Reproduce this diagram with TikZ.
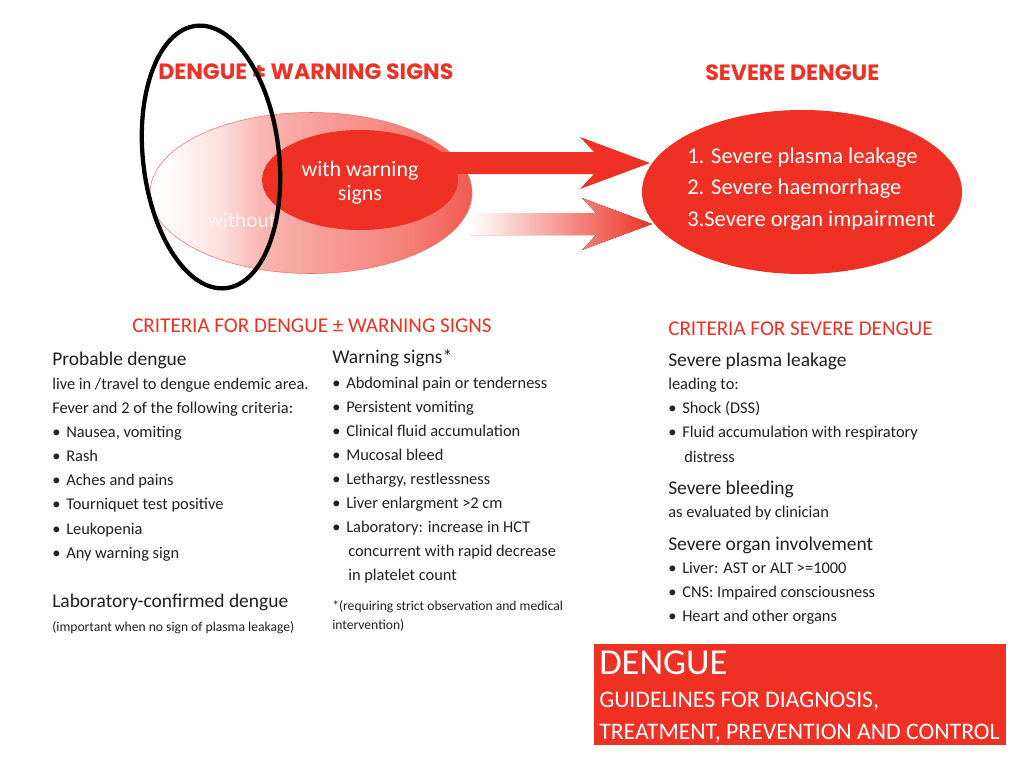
\documentclass[tikz,border=0pt]{standalone}
\usepackage{fontspec}
\setmainfont{Carlito}
\newfontfamily\heavyfont{Poppins}
\usetikzlibrary{positioning,calc,shapes.geometric}
\definecolor{dred}{HTML}{EE3124}
\definecolor{ink}{HTML}{231F20}

\pgfdeclarehorizontalshading{denguefade}{100bp}{color(0bp)=(white); color(27bp)=(white);
  color(36bp)=(dred!15!white); color(42bp)=(dred!35!white); color(50bp)=(dred!45!white);
  color(64bp)=(dred!60!white); color(75bp)=(dred!80!white); color(100bp)=(dred!80!white)}

% fat arrow: style, start coordinate, tip coordinate
\newcommand\fatarrow[3]{%
  \fill[#1] ($(#2)+(0,-11)$) -- ($(#3)+(-56,-11)$) -- ($(#3)+(-70,-26)$) -- (#3)
    -- ($(#3)+(-70,26)$) -- ($(#3)+(-56,11)$) -- ($(#2)+(0,11)$) -- cycle;}
\newcommand\blt{\makebox[10.5pt][l]{\textbullet}}

\begin{document}
\begin{tikzpicture}[x=0.75pt, y=-0.75pt,
    bigtitle/.style={font=\heavyfont\bfseries\fontsize{16.6}{19}\selectfont, text=dred, anchor=base west, inner sep=0pt},
    crit/.style={font=\fontsize{15.8}{18}\selectfont, text=dred, anchor=base west, inner sep=0pt},
    head/.style={font=\fontsize{14.6}{17}\selectfont, text=ink, anchor=base west, inner sep=0pt},
    body/.style={font=\fontsize{12.3}{14}\selectfont, text=ink, anchor=base west, inner sep=0pt},
    note/.style={font=\fontsize{10.2}{12}\selectfont, text=ink, anchor=base west, inner sep=0pt},
    oval/.style={ellipse, inner sep=0pt, draw=none},
    ovaltext/.style={font=\fontsize{16.9}{23.6}\selectfont, text=white, align=left, inner sep=0pt},
    boxtext/.style={text=white, anchor=base west, inner sep=0pt},
]
\fill[white] (0,0) rectangle (1024,768);
\useasboundingbox (0,0) rectangle (1024,768);

% titles
\node[bigtitle] (ttwarn) at (158,79) {DENGUE ± WARNING SIGNS};
\node[bigtitle] (ttsev) at (705,80) {SEVERE DENGUE};

% ovals
\node[oval, minimum width=241.5pt, minimum height=120.75pt, shading=denguefade,
      draw=dred!70!white, line width=0.4pt] (dengue) at (311,193) {};
\node[oval, fill=dred, minimum width=147pt, minimum height=75pt] (warn) at (360,180) {};
\node[ovaltext, align=center, font=\fontsize{16.5}{18}\selectfont, anchor=base] (warntxt) at (360,200) {with warning\\signs};
\node[ovaltext, font=\fontsize{16}{18}\selectfont, text=white!94!dred, anchor=base] (without) at (242,227) {without};

% arrows
\coordinate (a1) at (440,163);
\coordinate (t1) at (650,163);
\coordinate (a2) at (470,224);
\coordinate (t2) at (652,224);
\fatarrow{dred}{a1}{t1}
\fatarrow{left color=white, right color=dred}{a2}{t2}

\node[oval, fill=dred, minimum width=240pt, minimum height=123pt] (severe) at (802,192) {};
\node[ovaltext, anchor=base west] (sevtxt) at (687,226)
  {1. Severe plasma leakage\\2. Severe haemorrhage\\3.Severe organ impairment};

% criteria for dengue +- warning signs
\node[crit] (critwarn) at (132,332) {CRITERIA FOR DENGUE ± WARNING SIGNS};
\node[head] (prob) at (52,365) {Probable dengue};
\node[body] (prob1) at (52,389) {live in /travel to dengue endemic area.};
\node[body] (prob2) at (52,413) {Fever and 2 of the following criteria:};
\foreach \t [count=\i] in {{Nausea, vomiting}, Rash, Aches and pains, Tourniquet test positive, Leukopenia, Any warning sign}
  \node[body] (pb\i) at (52,413+24.2*\i) {\blt\t};
\node[head] (labconf) at (52,607) {Laboratory-confirmed dengue};
\node[note] (labnote) at (52,631) {(important when no sign of plasma leakage)};

\node[head] (wsigns) at (332,363) {Warning signs*};
\foreach \t [count=\i] in {Abdominal pain or tenderness, Persistent vomiting, Clinical fluid accumulation,
    Mucosal bleed, {Lethargy, restlessness}, Liver enlargment >2 cm, Laboratory: increase in HCT}
  \node[body] (ws\i) at (332,364+24*\i) {\blt\t};
\node[body] (ws8) at (348,556) {concurrent with rapid decrease};
\node[body] (ws9) at (348,580) {in platelet count};
\node[note] (wsnote) at (332,610) {*(requiring strict observation and medical};
\node[note] (wsnote2) at (332,629) {intervention)};

% criteria for severe dengue
\node[crit] (critsev) at (668,335) {CRITERIA FOR SEVERE DENGUE};
\node[head] (leak) at (668,366) {Severe plasma leakage};
\node[body] (leak1) at (668,389) {leading to:};
\node[body] (leak2) at (668,413) {\blt Shock (DSS)};
\node[body] (leak3) at (668,437) {\blt Fluid accumulation with respiratory};
\node[body] (leak4) at (684,462) {distress};
\node[head] (bleed) at (668,494) {Severe bleeding};
\node[body] (bleed1) at (668,517) {as evaluated by clinician};
\node[head] (organ) at (668,550) {Severe organ involvement};
\foreach \t [count=\i] in {Liver: AST or ALT >=1000, CNS: Impaired consciousness, Heart and other organs}
  \node[body] (og\i) at (668,549+24*\i) {\blt\t};

% guideline box
\fill[dred] (594,644) rectangle (1006,745);
\node[boxtext, font=\fontsize{27.4}{30}\selectfont] (gdengue) at (599,674) {DENGUE};
\node[boxtext, font=\fontsize{17.8}{20}\selectfont] (gline1) at (599,707) {GUIDELINES FOR DIAGNOSIS,};
\node[boxtext, font=\fontsize{17.8}{20}\selectfont] (gline2) at (599,739) {TREATMENT, PREVENTION AND CONTROL};

% hand-drawn ring
\draw[line width=3.2pt, rotate around={6.5:(211,157)}] (211,157) ellipse [x radius=68, y radius=132];
\end{tikzpicture}
\end{document}
